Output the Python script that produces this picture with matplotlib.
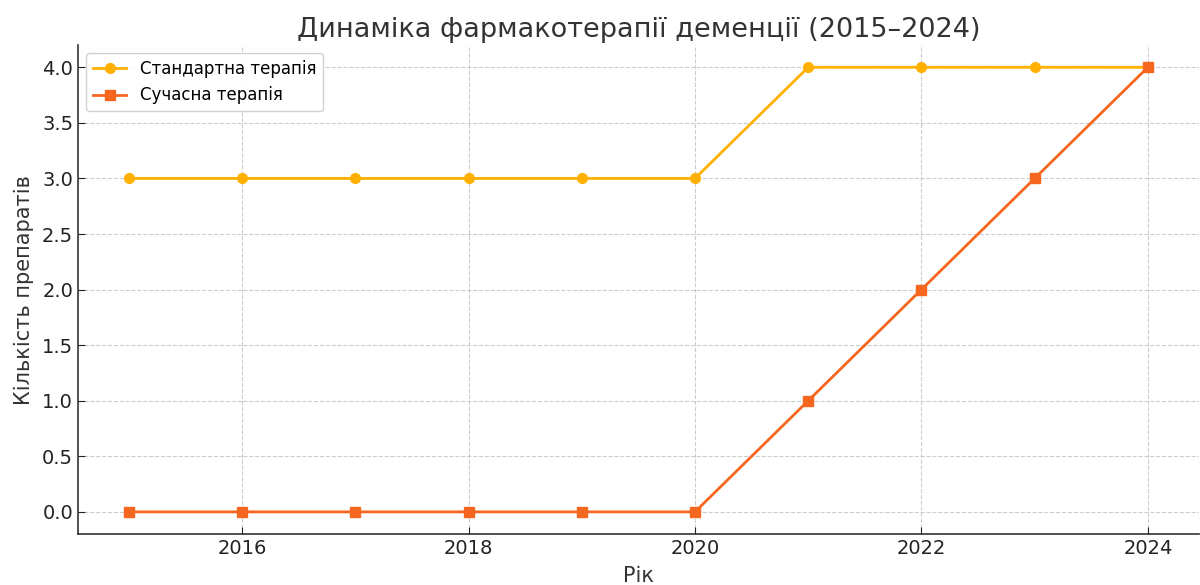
import matplotlib.pyplot as plt

# data
years = [2015, 2016, 2017, 2018, 2019, 2020, 2021, 2022, 2023, 2024]
standard = [3, 3, 3, 3, 3, 3, 4, 4, 4, 4]
modern = [0, 0, 0, 0, 0, 0, 1, 2, 3, 4]

title = 'Динаміка фармакотерапії деменції (2015–2024)'
xlabel = 'Рік'
ylabel = 'Кількість препаратів'
labels = ['Стандартна терапія', 'Сучасна терапія']

fig = plt.figure(figsize=(12, 5.85), dpi=100)
ax = fig.add_axes([0.065, 0.087, 0.934, 0.836])

ax.plot(years, standard, marker='o', color='#FFB000', linewidth=2, markersize=7, label=labels[0])
ax.plot(years, modern, marker='s', color='#F5671F', linewidth=2, markersize=7, label=labels[1])

ax.set_title(title, fontsize=19.5, color='#333333', pad=6)
ax.set_xlabel(xlabel, fontsize=15, color='#333333', labelpad=6)
ax.set_ylabel(ylabel, fontsize=15, color='#333333', labelpad=6)

ax.set_ylim(-0.2, 4.2)
ax.set_xlim(2014.55, 2024.45)
ax.set_xticks([2016, 2018, 2020, 2022, 2024])
ax.set_yticks([0, 0.5, 1, 1.5, 2, 2.5, 3, 3.5, 4])
ax.set_yticklabels(['%.1f' % v for v in ax.get_yticks()])

ax.tick_params(direction='in', labelsize=14, colors='#222222', length=5)
ax.grid(True, linestyle='--', color='#cccccc', linewidth=0.8)
for side in ['top', 'right']:
    ax.spines[side].set_visible(False)
for side in ['left', 'bottom']:
    ax.spines[side].set_color('#333333')
    ax.spines[side].set_linewidth(1.2)

ax.legend(loc='upper left', fontsize=12, framealpha=0.9, edgecolor='#cccccc')

fig.savefig('out.png', dpi=100)
